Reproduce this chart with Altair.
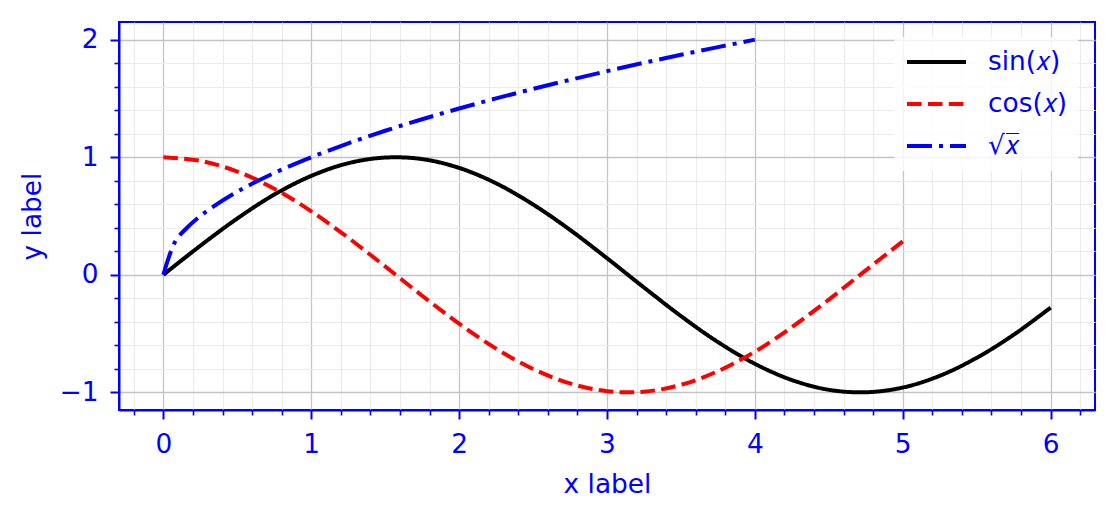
import altair as alt
import pandas as pd

# ---- data ----
sin_x = [0, 0.25, 0.5, 0.75, 1, 1.25, 1.5, 1.75, 2, 2.25, 2.5, 2.75, 3, 3.25, 3.5,
         3.75, 4, 4.25, 4.5, 4.75, 5, 5.25, 5.5, 5.75, 6]
sin_y = [0, 0.247, 0.479, 0.682, 0.841, 0.949, 0.997, 0.984, 0.909, 0.778, 0.598,
         0.382, 0.141, -0.108, -0.351, -0.572, -0.757, -0.895, -0.978, -0.999,
         -0.959, -0.859, -0.706, -0.510, -0.279]
cos_x = [0, 0.25, 0.5, 0.75, 1, 1.25, 1.5, 1.75, 2, 2.25, 2.5, 2.75, 3, 3.25, 3.5,
         3.75, 4, 4.25, 4.5, 4.75, 5]
cos_y = [1, 0.969, 0.878, 0.732, 0.540, 0.315, 0.071, -0.178, -0.416, -0.628,
         -0.801, -0.924, -0.990, -0.994, -0.936, -0.820, -0.654, -0.446, -0.211,
         0.038, 0.284]
sqrt_x = [0, 0.08, 0.16, 0.25, 0.33, 0.5, 0.75, 1, 1.25, 1.5, 1.75, 2, 2.25, 2.5,
          2.75, 3, 3.25, 3.5, 3.75, 4]
sqrt_y = [0, 0.283, 0.4, 0.5, 0.574, 0.707, 0.866, 1, 1.118, 1.225, 1.323, 1.414,
          1.5, 1.581, 1.658, 1.732, 1.803, 1.871, 1.936, 2]

names = ["sin(𝑥)", "cos(𝑥)", "√𝑥̅"]
colors = ["#000000", "#ff0000", "#0000ff"]
dashes = [[1, 0], [14.6, 6.3], [25, 7, 4, 7]]

x_major = [0, 1, 2, 3, 4, 5, 6]
y_major = [-1, 0, 1, 2]

rows = []
for name, xs, ys in zip(names, [sin_x, cos_x, sqrt_x], [sin_y, cos_y, sqrt_y]):
    for a, b in zip(xs, ys):
        rows.append({"x": a, "y": b, "series": name})
df = pd.DataFrame(rows)

x_minor = [round(-0.2 + 0.2 * i, 1) for i in range(33)]
x_minor = [v for v in x_minor if abs(v - round(v)) > 1e-6]
y_minor = [round(-1.0 + 0.2 * i, 1) for i in range(16)]
y_minor = [v for v in y_minor if abs(v - round(v)) > 1e-6]

FONT = "DejaVu Sans"
FS = 26.4
BLUE = "#0000ff"

xscale = alt.Scale(domain=[-0.3, 6.3], nice=False, zero=False)
yscale = alt.Scale(domain=[-1.15, 2.15], nice=False, zero=False)

minor = alt.Chart(df).mark_point(opacity=0, size=1).encode(
    x=alt.X("x:Q", scale=xscale, axis=alt.Axis(
        orient="bottom", values=x_minor, labels=False, domain=False,
        tickSize=5, tickWidth=1.6, tickColor=BLUE,
        grid=True, gridColor="#ebebeb", gridWidth=1, title=None)),
    y=alt.Y("y:Q", scale=yscale, axis=alt.Axis(
        orient="left", values=y_minor, labels=False, domain=False,
        tickSize=5, tickWidth=1.6, tickColor=BLUE,
        grid=True, gridColor="#ebebeb", gridWidth=1, title=None)),
)

legend = alt.Legend(
    title=None, orient="none", legendX=775, legendY=15,
    symbolType="stroke", symbolSize=3481, symbolStrokeWidth=4,
    clipHeight=28, rowPadding=14, padding=11, labelOffset=20,
    labelFont=FONT, labelFontSize=FS, labelColor=BLUE, labelLimit=300,
    fillColor="rgba(255,255,255,0.8)", cornerRadius=4,
)

lines = alt.Chart(df).mark_line(strokeWidth=4, interpolate="catmull-rom").encode(
    x=alt.X("x:Q", scale=xscale, axis=alt.Axis(
        orient="bottom", values=x_major, format="d",
        tickSize=9, tickWidth=2, tickColor=BLUE,
        domainColor=BLUE, domainWidth=2,
        labelColor=BLUE, labelFont=FONT, labelFontSize=FS, labelPadding=12,
        labelFlush=False,
        grid=True, gridColor="#c4c4c4", gridWidth=1.3,
        title="x label", titleColor=BLUE, titleFont=FONT, titleFontSize=FS,
        titleFontWeight="normal", titleBaseline="alphabetic", titleY=82)),
    y=alt.Y("y:Q", scale=yscale, axis=alt.Axis(
        orient="left", values=y_major, format="d",
        tickSize=9, tickWidth=2, tickColor=BLUE,
        domainColor=BLUE, domainWidth=2,
        labelColor=BLUE, labelFont=FONT, labelFontSize=FS, labelPadding=12,
        labelFlush=False,
        grid=True, gridColor="#c4c4c4", gridWidth=1.3,
        title="y label", titleColor=BLUE, titleFont=FONT, titleFontSize=FS,
        titleFontWeight="normal", titleBaseline="alphabetic", titleX=-79)),
    color=alt.Color("series:N", scale=alt.Scale(domain=names, range=colors), legend=legend),
    strokeDash=alt.StrokeDash("series:N", scale=alt.Scale(domain=names, range=dashes), legend=legend),
)

chart = alt.layer(minor, lines).resolve_axis(x="independent", y="independent").properties(
    width=976, height=388,
    padding={"left": 111, "top": 14, "right": 16, "bottom": 98},
    autosize=alt.AutoSizeParams(type="none"),
    background="white",
).configure_view(stroke=BLUE, strokeWidth=2)

chart.save("out.html", embed_options={"renderer": "svg", "actions": False})
